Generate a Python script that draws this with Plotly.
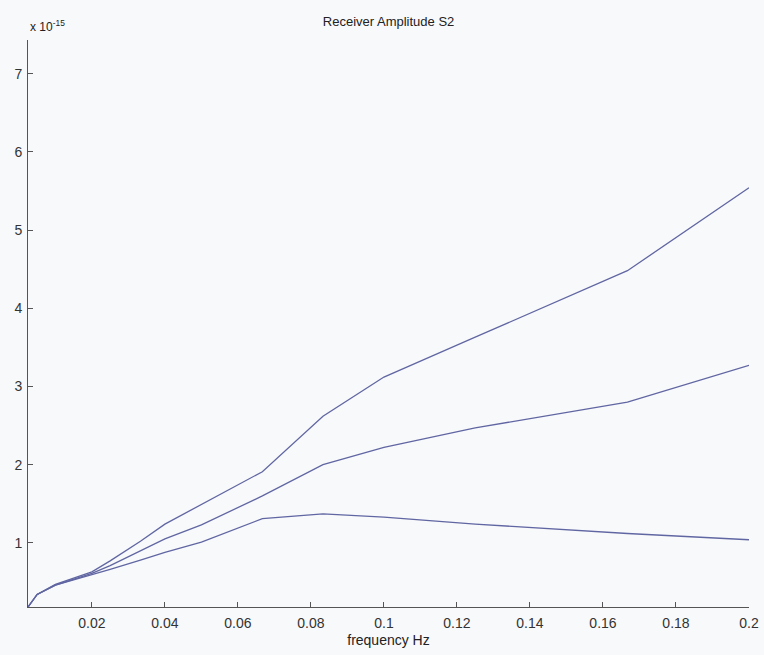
import plotly.graph_objects as go

# frequency (Hz)
freq = [0.0025, 0.005, 0.01, 0.02, 0.025, 0.0333, 0.04, 0.05, 0.0667, 0.0833, 0.1, 0.125, 0.1667, 0.2]
# amplitude, units of 1e-15
amp_upper = [0.18, 0.34, 0.47, 0.63, 0.77, 1.02, 1.24, 1.49, 1.91, 2.62, 3.12, 3.63, 4.48, 5.54]
amp_middle = [0.18, 0.34, 0.46, 0.61, 0.71, 0.90, 1.05, 1.23, 1.60, 2.00, 2.22, 2.47, 2.80, 3.27]
amp_lower = [0.18, 0.34, 0.46, 0.59, 0.66, 0.78, 0.88, 1.01, 1.31, 1.37, 1.33, 1.24, 1.12, 1.04]

x_ticks = [0.02, 0.04, 0.06, 0.08, 0.1, 0.12, 0.14, 0.16, 0.18, 0.2]
x_tick_labels = ["0.02", "0.04", "0.06", "0.08", "0.1", "0.12", "0.14", "0.16", "0.18", "0.2"]
y_ticks = [1, 2, 3, 4, 5, 6, 7]

line_color = "rgb(96,102,162)"
font_family = "Liberation Sans, Arial, sans-serif"

fig = go.Figure()
for ys in (amp_upper, amp_middle, amp_lower):
    fig.add_trace(go.Scatter(x=freq, y=ys, mode="lines",
                             line=dict(color=line_color, width=1.3),
                             showlegend=False, hoverinfo="skip"))

fig.update_layout(
    width=764, height=655,
    margin=dict(l=28, r=15, t=40, b=48),
    paper_bgcolor="#f8f9fb", plot_bgcolor="#f8f9fb",
    font=dict(family=font_family, size=14, color="#333"),
    title=dict(text="Receiver Amplitude S2", x=0.5086, xanchor="center",
               y=1 - 21 / 655, yanchor="middle",
               font=dict(family=font_family, size=13, color="#222")),
    xaxis=dict(range=[0.0025, 0.2], tickvals=x_ticks, ticktext=x_tick_labels,
               ticks="inside", ticklen=5, tickcolor="#555", showline=True,
               linecolor="#555", linewidth=1, showgrid=False, zeroline=False,
               ticklabelstandoff=3, automargin=False,
               title=dict(text="frequency Hz", standoff=5,
                          font=dict(family=font_family, size=14, color="#222")),
               tickfont=dict(family=font_family, size=14, color="#333")),
    yaxis=dict(range=[0.18, 7.43], tickvals=y_ticks, ticks="inside", ticklen=5,
               tickcolor="#555", showline=True, linecolor="#555", linewidth=1,
               showgrid=False, zeroline=False, ticklabelstandoff=2,
               automargin=False,
               tickfont=dict(family=font_family, size=14, color="#333")),
)

fig.add_annotation(text="x 10<sup>-15</sup>", xref="paper", yref="paper",
                   x=0, y=1, xanchor="left", yanchor="bottom", yshift=4,
                   showarrow=False,
                   font=dict(family=font_family, size=12, color="#222"))

fig.write_html("out.html")
